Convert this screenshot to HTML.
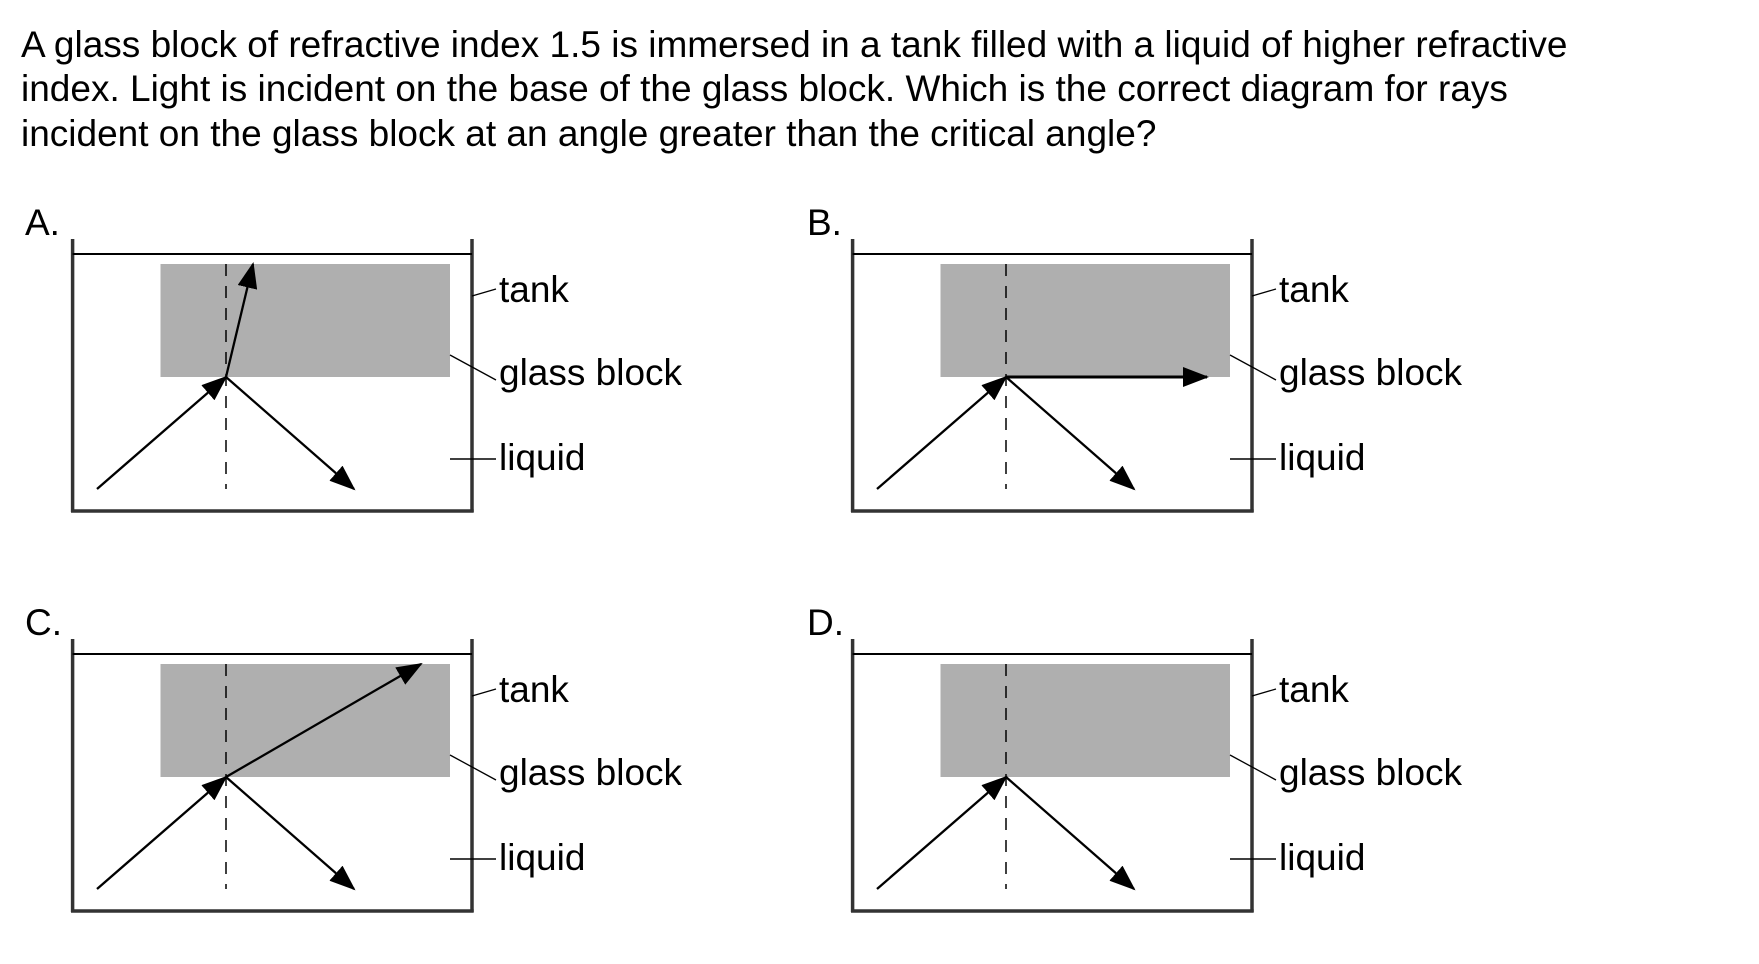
<!DOCTYPE html>
<html><head><style>
html,body{margin:0;padding:0;background:#fff;}
svg{display:block;}
text{font-family:"Liberation Sans",Arial,sans-serif;fill:#000;}
</style></head><body>
<svg width="1759" height="964" viewBox="0 0 1759 964" xmlns="http://www.w3.org/2000/svg">
<defs>
<marker id="ah" markerWidth="26" markerHeight="20" refX="24" refY="10" orient="auto" markerUnits="userSpaceOnUse">
<path d="M0,0 L26,10 L0,20 z" fill="#000"/>
</marker>
<g id="tank">
<line x1="852.6" y1="239" x2="852.6" y2="512" stroke="#333" stroke-width="3.5"/>
<line x1="1252" y1="239" x2="1252" y2="512" stroke="#333" stroke-width="3.5"/>
<line x1="851" y1="511" x2="1253.7" y2="511" stroke="#333" stroke-width="3.5"/>
<line x1="852.6" y1="254" x2="1252" y2="254" stroke="#000" stroke-width="2"/>
<rect x="940.5" y="264" width="289.5" height="113" fill="#afafaf"/>
<line x1="1006" y1="264" x2="1006" y2="489" stroke="#000" stroke-width="1.5" stroke-dasharray="12,10"/>
<line x1="877" y1="489" x2="1006" y2="377" stroke="#000" stroke-width="2.3" marker-end="url(#ah)"/>
<line x1="1006" y1="377" x2="1134" y2="489" stroke="#000" stroke-width="2.3" marker-end="url(#ah)"/>
<line x1="1252" y1="296" x2="1276" y2="289" stroke="#000" stroke-width="1.3"/>
<line x1="1230" y1="355" x2="1276" y2="380" stroke="#000" stroke-width="1.3"/>
<line x1="1230" y1="459" x2="1276" y2="459" stroke="#000" stroke-width="1.5"/>
<text x="1279" y="302" font-size="37">tank</text>
<text x="1279" y="385" font-size="37">glass block</text>
<text x="1279" y="470" font-size="37">liquid</text>
</g>
</defs>
<text font-size="37"><tspan x="21" y="57">A glass block of refractive index 1.5 is immersed in a tank filled with a liquid of higher refractive</tspan><tspan x="21" y="101">index. Light is incident on the base of the glass block. Which is the correct diagram for rays</tspan><tspan x="21" y="146">incident on the glass block at an angle greater than the critical angle?</tspan></text>

<!-- A -->
<g transform="translate(-780,0)">
<use href="#tank"/>
<text x="805" y="235" font-size="37">A.</text>
<line x1="1006" y1="377" x2="1033" y2="264" stroke="#000" stroke-width="2.3" marker-end="url(#ah)"/>
</g>
<!-- B -->
<g>
<use href="#tank"/>
<text x="807" y="235" font-size="37">B.</text>
<line x1="1006" y1="377" x2="1207" y2="377" stroke="#000" stroke-width="3" marker-end="url(#ah)"/>
</g>
<!-- C -->
<g transform="translate(-780,400)">
<use href="#tank"/>
<text x="805" y="235" font-size="37">C.</text>
<line x1="1006" y1="377" x2="1201" y2="264" stroke="#000" stroke-width="2.3" marker-end="url(#ah)"/>
</g>
<!-- D -->
<g transform="translate(0,400)">
<use href="#tank"/>
<text x="807" y="235" font-size="37">D.</text>
</g>
</svg>
</body></html>
